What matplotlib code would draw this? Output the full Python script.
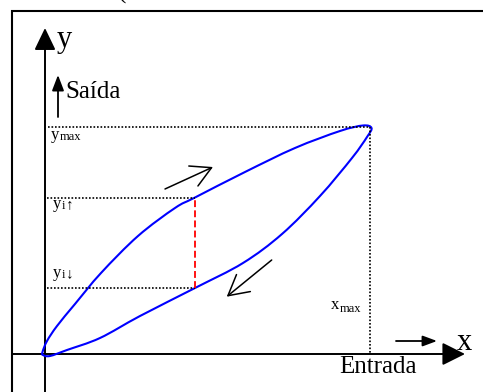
import matplotlib
matplotlib.use("Agg")
import matplotlib.pyplot as plt
from matplotlib.patches import FancyArrowPatch, PathPatch
from matplotlib.path import Path

plt.rcParams['font.family'] = ['Liberation Serif', 'DejaVu Serif']

# Ciclo de histerese: ramo de subida (da origem até ao máximo)
up_x = [-2.5, 2, 12, 30, 56, 93, 130, 150, 200, 250, 295, 318, 326.5]
up_y = [2, 13, 28, 50, 81, 118, 146, 156.5, 182, 206, 223, 228.5, 226]

# ramo de descida (do máximo de volta à origem)
down_x = [322, 307, 275, 237, 198, 150, 95, 55, 22, 5, -2, -2.5]
down_y = [217, 196, 158, 120, 91, 66, 38, 16, 4, -2, -1, 2]

x_max = 325
y_max = 227
x_i = 150
y_i_up = 156.5
y_i_down = 66

# setas que indicam o sentido de percurso do ciclo
dir_up = [(120, 165), (168, 187)]
dir_down = [(226.7, 94), (181.7, 57.3)]

fig = plt.figure(figsize=(4.83, 3.92), dpi=100)
ax = fig.add_axes([0, 0, 1, 1])
ax.set_xlim(-45, 438)
ax.set_ylim(-38, 354)
ax.axis('off')

# moldura (esquerda e topo)
ax.plot([-33, -33, 440], [-40, 343, 343], color='black', lw=1.5,
        solid_joinstyle='miter')


def seta(p0, p1, hl, hw, lw):
    a = FancyArrowPatch(p0, p1, arrowstyle=f'-|>,head_length={hl},head_width={hw}',
                        mutation_scale=1, shrinkA=0, shrinkB=0,
                        color='black', lw=lw)
    ax.add_patch(a)


# eixos x e y com pontas cheias
seta((0, -40), (0, 326), 13.5, 6.5, 1.4)
seta((-32, 0), (420, 0), 14, 7, 1.4)
seta((13, 237), (13, 279), 9.4, 3.6, 1.3)
seta((351, 13), (392, 13), 8.6, 3.2, 1.3)

# linhas de referência pontilhadas
dot = (0, (1, 1.1))
ax.plot([3, x_max], [y_max, y_max], color='black', lw=1.2, linestyle=dot)
ax.plot([x_max, x_max], [y_max, 0], color='black', lw=1.2, linestyle=dot)
ax.plot([2, x_i], [y_i_up, y_i_up], color='black', lw=1.2, linestyle=dot)
ax.plot([2, x_i], [y_i_down, y_i_down], color='black', lw=1.2, linestyle=dot)

# diferença de histerese
ax.plot([x_i, x_i], [y_i_down, y_i_up], color='#ff0000', lw=1.3,
        linestyle=(0, (3.8, 1.8)))


# ciclo fechado, desenhado como curva suave (Catmull-Rom -> Bézier)
def curva_suave(xs, ys):
    pts = list(zip(xs, ys))
    n = len(pts)
    verts = [pts[0]]
    codes = [Path.MOVETO]
    for i in range(n - 1):
        p0 = pts[i - 1] if i > 0 else pts[-2]
        p1 = pts[i]
        p2 = pts[i + 1]
        p3 = pts[i + 2] if i + 2 < n else pts[1]
        c1 = (p1[0] + (p2[0] - p0[0]) / 6, p1[1] + (p2[1] - p0[1]) / 6)
        c2 = (p2[0] - (p3[0] - p1[0]) / 6, p2[1] - (p3[1] - p1[1]) / 6)
        verts += [c1, c2, p2]
        codes += [Path.CURVE4] * 3
    return Path(verts, codes)


ax.add_patch(PathPatch(curva_suave(up_x + down_x, up_y + down_y),
                       facecolor='none', edgecolor='#0000ff', lw=1.5))

for p0, p1 in (dir_up, dir_down):
    a = FancyArrowPatch(p0, p1, arrowstyle='->,head_length=14.4,head_width=7.9',
                        mutation_scale=1, shrinkA=0, shrinkB=0,
                        color='black', lw=1.1)
    ax.add_patch(a)

# textos
ax.text(12, 307, 'y', fontsize=22, va='baseline')
ax.text(412, 4, 'x', fontsize=22, va='baseline')
ax.text(20, 256, 'Saída', fontsize=18, va='baseline')
ax.text(294, -19, 'Entrada', fontsize=18, va='baseline')
ax.text(73, 355, '(', fontsize=18, va='baseline')

ax.text(6, 215, 'y', fontsize=12, va='baseline')
ax.text(15, 214.5, 'max', fontsize=9, va='baseline')

ax.text(8, 146, 'y', fontsize=12, va='baseline')
ax.text(17, 145.5, 'i', fontsize=9, va='baseline')
ax.text(21, 145.5, '↑', fontsize=11, va='baseline')

ax.text(8, 77, 'y', fontsize=12, va='baseline')
ax.text(17, 76.5, 'i', fontsize=9, va='baseline')
ax.text(21, 76.5, '↓', fontsize=11, va='baseline')

ax.text(286, 45, 'x', fontsize=12, va='baseline')
ax.text(295, 42, 'max', fontsize=9, va='baseline')

fig.savefig('out.png', dpi=100)
